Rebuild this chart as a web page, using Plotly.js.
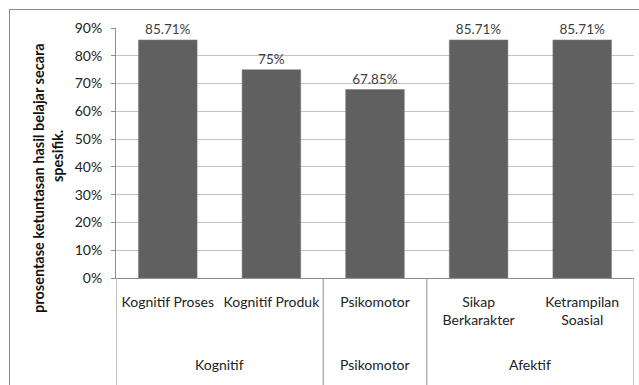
<!DOCTYPE html>
<html>
<head>
<meta charset="utf-8">
<script src="https://cdn.plot.ly/plotly-3.0.1.min.js"></script>
<style>
  html, body { margin: 0; padding: 0; background: #fff; }
  #wrap { position: relative; width: 639px; height: 385px; overflow: hidden; }
  #chart { position: absolute; left: 0; top: 0; width: 639px; height: 385px; }
  #frame { position: absolute; left: 9px; top: 9px; width: 700px; height: 500px;
           border-left: 1px solid #8c8c8c; border-top: 1px solid #8c8c8c; pointer-events: none; }
</style>
</head>
<body>
<div id="wrap">
  <div id="chart"></div>
  <div id="frame"></div>
</div>
<script>
// ---- data ----
const categories = ['Kognitif Proses', 'Kognitif Produk', 'Psikomotor', 'Sikap<br>Berkarakter', 'Ketrampilan<br>Soasial'];
const values = [0.8571, 0.75, 0.6785, 0.8571, 0.8571];
const groupNames = ['Kognitif', 'Psikomotor', 'Afektif'];
const groupSizes = [2, 1, 2];
const yTitleLine1 = 'prosentase ketuntasan hasil belajar secara';
const yTitleLine2 = 'spesifik.';

// ---- build ----
const FONT = 'Lato, "Open Sans", sans-serif';
const axisColor = '#8c8c8c';

const trace = {
  type: 'bar',
  x: categories,
  y: values,
  marker: { color: '#606060', line: { color: '#7a7a7a', width: 0.5 } },
  texttemplate: '%{y:.2~%}',
  textposition: 'outside',
  textfont: { family: FONT, size: 13.5, color: '#404040' },
  cliponaxis: false,
  hoverinfo: 'skip'
};

const shapes = [];
const annotations = [];
let start = 0;
const boundaries = [-0.5];
groupNames.forEach((g, i) => {
  const n = groupSizes[i];
  annotations.push({
    xref: 'x', yref: 'paper', x: start + (n - 1) / 2, y: -0.348,
    text: g, showarrow: false, xanchor: 'center', yanchor: 'middle',
    font: { family: FONT, size: 14, color: '#222' }
  });
  start += n;
  boundaries.push(start - 0.5);
});
boundaries.forEach(b => {
  shapes.push({
    type: 'line', xref: 'x', yref: 'paper', x0: b, x1: b, y0: 0, y1: -0.5,
    line: { color: axisColor, width: 1 }
  });
});

annotations.push({
  xref: 'paper', yref: 'paper', x: (38 - 116) / 518, y: (278 - 178) / 250,
  text: '<b>' + yTitleLine1 + '</b>', textangle: -90, showarrow: false,
  xanchor: 'center', yanchor: 'middle',
  font: { family: FONT, size: 14.5, color: '#111' }
});
annotations.push({
  xref: 'paper', yref: 'paper', x: (57 - 116) / 518, y: (278 - 156) / 250,
  text: '<b>' + yTitleLine2 + '</b>', textangle: -90, showarrow: false,
  xanchor: 'center', yanchor: 'middle',
  font: { family: FONT, size: 14.5, color: '#111' }
});

const layout = {
  width: 639, height: 385,
  margin: { l: 116, r: 5, t: 28, b: 107, pad: 0 },
  paper_bgcolor: '#fff', plot_bgcolor: '#fff',
  showlegend: false,
  bargap: 0.434,
  xaxis: {
    type: 'category', range: [-0.5, categories.length - 0.5],
    showline: true, linecolor: axisColor, linewidth: 1,
    ticks: '', showgrid: false, zeroline: false,
    tickfont: { family: FONT, size: 14, color: '#222' },
    ticklabelstandoff: 11,
    fixedrange: true
  },
  yaxis: {
    range: [0, 0.9], dtick: 0.1, tick0: 0, tickformat: '.0%',
    showgrid: true, gridcolor: '#c4c4c4', gridwidth: 1,
    showline: true, linecolor: axisColor, linewidth: 1,
    ticks: 'outside', ticklen: 4, tickcolor: axisColor,
    zeroline: false,
    tickfont: { family: FONT, size: 14, color: '#222' },
    ticklabelstandoff: 6,
    fixedrange: true
  },
  shapes: shapes,
  annotations: annotations
};

Plotly.newPlot('chart', [trace], layout, { displayModeBar: false, staticPlot: true });
</script>
</body>
</html>
